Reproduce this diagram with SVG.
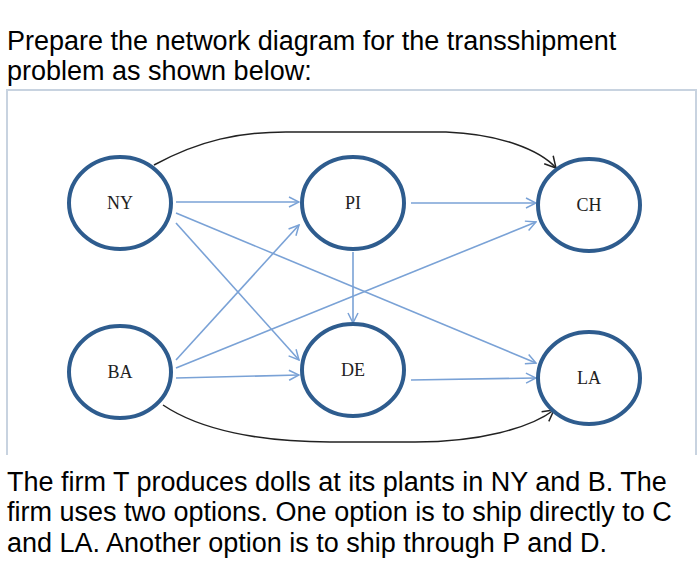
<svg xmlns="http://www.w3.org/2000/svg" width="700" height="578" viewBox="0 0 700 578">
<style>
.t{font-family:"Liberation Sans",Arial,sans-serif;font-size:27px;fill:#000}
.n ellipse{fill:#fff;stroke:#2e5c8e;stroke-width:4}
.n text{font-family:"Liberation Serif","Times New Roman",serif;font-size:18px;fill:#222;text-anchor:middle}
.b{stroke:#7aa2d6;stroke-width:1.6;fill:none;marker-end:url(#ab)}
.k{stroke:#222;stroke-width:1.5;fill:none;marker-end:url(#ak)}
</style>
<defs>
<marker id="ab" viewBox="0 0 12 12" refX="11" refY="6" markerWidth="12" markerHeight="12" markerUnits="userSpaceOnUse" orient="auto"><path d="M1,1 L11,6 L1,11" fill="none" stroke="#7aa2d6" stroke-width="1.5"/></marker>
<marker id="ak" viewBox="0 0 14 14" refX="12" refY="7" markerWidth="14" markerHeight="14" markerUnits="userSpaceOnUse" orient="auto"><path d="M1,1 L12,7 L1,13" fill="none" stroke="#222" stroke-width="1.5"/></marker>
</defs>
<rect width="700" height="578" fill="#fff"/>
<text class="t" x="7" y="50">Prepare the network diagram for the transshipment</text>
<text class="t" x="7" y="80">problem as shown below:</text>
<path d="M7,455 V90 H696 V455" fill="none" stroke="#c8d3e0" stroke-width="2"/>
<g id="connectors">
<line class="b" x1="176" y1="202" x2="299" y2="202"/>
<line class="b" x1="411" y1="203" x2="536" y2="203"/>
<line class="b" x1="176" y1="223" x2="299" y2="360"/>
<line class="b" x1="176" y1="213" x2="536" y2="363"/>
<line class="b" x1="176" y1="360" x2="299" y2="225"/>
<line class="b" x1="176" y1="368" x2="536" y2="222"/>
<line class="b" x1="176" y1="378" x2="299" y2="375"/>
<line class="b" x1="353" y1="252" x2="353" y2="323"/>
<line class="b" x1="411" y1="380" x2="536" y2="378"/>
<path class="k" d="M154,165 C200,140 240,132 286,132 L446,132 C500,134 540,150 556,168"/>
<path class="k" d="M163,405 C200,430 260,442 330,442 L415,442 C480,442 530,428 554,410"/>
</g>
<g id="NY" class="n"><ellipse cx="120" cy="203" rx="51" ry="46"/><text x="120" y="209">NY</text></g>
<g id="PI" class="n"><ellipse cx="353" cy="203" rx="51" ry="46"/><text x="353" y="209">PI</text></g>
<g id="CH" class="n"><ellipse cx="589" cy="205" rx="51" ry="46"/><text x="589" y="211">CH</text></g>
<g id="BA" class="n"><ellipse cx="120" cy="372" rx="51" ry="46"/><text x="120" y="378">BA</text></g>
<g id="DE" class="n"><ellipse cx="353" cy="370" rx="51" ry="46"/><text x="353" y="376">DE</text></g>
<g id="LA" class="n"><ellipse cx="589" cy="378" rx="51" ry="46"/><text x="589" y="384">LA</text></g>
<text class="t" x="7" y="491">The firm T produces dolls at its plants in NY and B. The</text>
<text class="t" x="7" y="521">firm uses two options. One option is to ship directly to C</text>
<text class="t" x="7" y="552">and LA. Another option is to ship through P and D.</text>
</svg>
